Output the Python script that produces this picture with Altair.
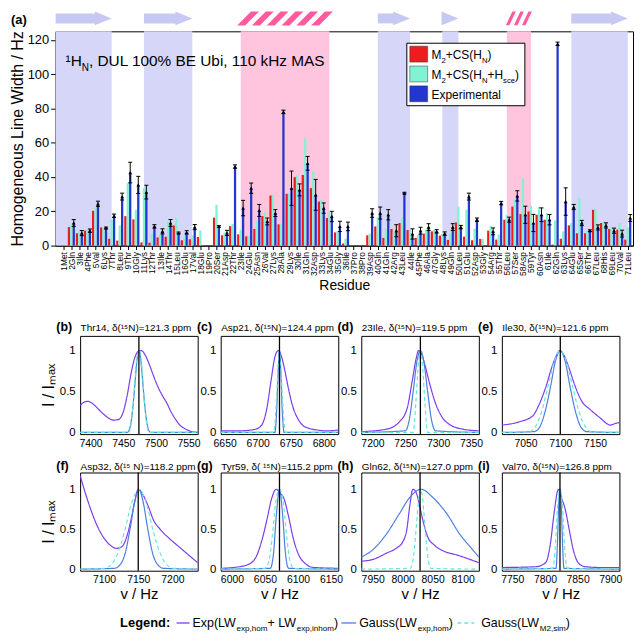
import altair as alt
import pandas as pd

FONT = "Liberation Sans"

# ---------------- panel (a) data ----------------
RESIDUE_NAMES = ["Met","Gln","Ile","Phe","Val","Lys","Thr","Leu","Thr","Gly",
                 "Lys","Thr","Ile","Thr","Leu","Glu","Val","Glu","Pro","Ser",
                 "Asp","Thr","Ile","Glu","Asn","Val","Lys","Ala","Lys","Ile",
                 "Gln","Asp","Lys","Glu","Gly","Ile","Pro","Pro","Asp","Gln",
                 "Gln","Arg","Leu","Ile","Phe","Ala","Gly","Lys","Gln","Leu",
                 "Glu","Asp","Gly","Arg","Thr","Leu","Ser","Asp","Tyr","Asn",
                 "Ile","Gln","Lys","Glu","Ser","Thr","Leu","His","Leu","Val","Leu"]

M2_CS_HN = [None, 10.8, 7.2, 8.7, 20.3, 10.6, 4.0, 2.9, 17.2, 15.3,
            1.9, 1.7, 4.8, 5.2, 11.8, 3.1, 3.7, 5.0, None, 16.3,
            6.0, 11.4, 6.6, 5.4, 9.7, 17.2, 29.2, 12.4, 30.2, 39.9,
            41.2, 33.5, 25.7, 16.1, 7.7, 1.2, None, None, 6.0, 11.2,
            4.5, 9.7, 13.2, 9.1, 4.5, 7.0, 8.3, 5.8, 3.3, 13.5,
            5.2, 3.1, 3.9, 8.7, 3.5, 15.1, 22.8, 18.4, 19.9, 18.0,
            15.1, 0.6, 4.0, 11.8, 7.2, 7.2, 20.9, 13.2, 9.7, 9.3, 3.5]

M2_CS_HN_HSCE = [None, 12.0, 8.3, 9.3, 22.0, 10.3, 15.3, 11.8, 36.4, 20.9,
                 33.5, 7.0, 6.4, 14.1, 16.1, 4.8, 6.0, 8.9, None, 23.8,
                 7.7, 12.6, 9.3, 5.8, 14.5, 19.5, 29.6, 12.8, 30.6, 40.8,
                 62.9, 43.2, 26.7, 19.5, 8.3, 4.0, None, None, 7.0, 16.5,
                 9.7, 8.3, 16.1, 9.3, 6.4, 9.3, 9.1, 6.8, 7.0, 22.8,
                 20.9, 9.7, 3.9, 11.6, 6.4, 18.0, 26.7, 38.9, 23.2, 22.5,
                 19.0, 14.7, 8.3, 13.2, 27.7, 8.3, 21.5, 13.5, 10.8, 13.2, 10.6]

EXPERIMENTAL = [None, 13.2, 7.3, 8.7, 24.4, 10.3, 17.4, 28.6, 42.6, 35.4,
                31.2, 11.2, 8.3, 13.2, 7.4, 7.7, 10.8, None, None, 11.2,
                7.4, 46.1, 21.9, 33.5, 20.5, 14.1, 19.0, 78.0, 33.5, 32.5,
                48.0, 29.6, 21.9, 17.0, 11.2, 11.2, None, None, 19.0, 19.0,
                18.0, 8.7, 30.6, 6.8, 8.7, 10.8, 8.3, 7.0, 10.8, 10.8,
                28.6, 15.1, None, 8.3, 24.8, 15.1, 29.0, 18.0, 13.2, 18.0,
                15.1, 117.7, 25.7, 22.5, 13.2, 8.7, 10.6, 11.8, 8.7, 7.0, 16.1]

EXP_ERROR = [None, 2, 1.5, 1, 1.5, 0.5, 1, 2, 6, 5,
             4, 1, 1.5, 2, 0.5, 1, 1.5, None, None, 0.5,
             1.5, 1, 4.5, 3, 3.5, 2, 2, 1, 10, 3.5,
             4, 9, 3, 3, 3, 2.5, None, None, 2.5, 3.5,
             3, 3.5, 0.5, 3, 2, 2, 1, 1, 2, 1,
             2, 1, None, 2, 1, 1.5, 3, 5, 5, 4,
             3, 1, 8, 1.5, 1.5, 0.5, 1.5, 1.5, 1.5, 2, 2]

# secondary structure (residue coordinates)
BAND_START = [0.05, 11, 23, 40, 48, 56, 64]
BAND_END = [7, 17, 34, 44, 50, 59, 71]
BAND_KIND = ["strand", "strand", "helix", "strand", "strand", "helix", "strand"]
HELIX_STRIPES = {2: 6, 5: 3}

N = len(RESIDUE_NAMES)
for arr in (M2_CS_HN, M2_CS_HN_HSCE, EXPERIMENTAL, EXP_ERROR):
    assert len(arr) == N, len(arr)

# ---------------- panels (b)-(i) data ----------------
B_EXP_X = [7384,7390,7396,7405,7415,7425,7435,7443,7450,7456,7462,7468,7473,7478,7484,7490,7496,7503,7510,7516,7524,7531,7538,7546,7555,7564]
B_EXP_Y = [0.33,0.37,0.38,0.34,0.26,0.19,0.15,0.16,0.25,0.45,0.72,0.92,0.99,1.0,0.94,0.83,0.70,0.56,0.45,0.37,0.24,0.15,0.08,0.04,0.01,0.0]
B_HOM_X = [7384,7456,7460,7464,7468,7471,7474,7477,7480,7484,7488,7492,7564]
B_HOM_Y = [0,0,0.05,0.25,0.6,0.88,1.0,0.88,0.6,0.25,0.05,0,0]
B_SIM_X = [7384,7458,7462,7466,7470,7474,7478,7482,7486,7490,7564]
B_SIM_Y = [0,0,0.1,0.42,0.85,1.0,0.85,0.42,0.1,0,0]

C_EXP_X = [6644,6670,6690,6700,6708,6714,6720,6726,6731,6736,6741,6747,6753,6760,6768,6778,6790,6805,6822]
C_EXP_Y = [0.02,0.02,0.03,0.05,0.12,0.3,0.62,0.92,1.0,0.93,0.76,0.52,0.32,0.18,0.09,0.05,0.03,0.02,0.03]
C_HOM_X = [6644,6726,6729,6731,6733,6735,6737,6740,6822]
C_HOM_Y = [0,0,0.3,0.75,1.0,0.75,0.3,0,0]
C_SIM_X = [6644,6724,6728,6731,6733,6735,6738,6742,6822]
C_SIM_Y = [0,0,0.35,0.8,1.0,0.8,0.35,0,0]

D_EXP_X = [7183,7221,7241,7253,7261,7267,7270,7274,7279,7287,7295,7305,7317,7338,7362]
D_EXP_Y = [0.01,0.04,0.13,0.3,0.65,0.92,1.0,0.97,0.85,0.6,0.38,0.2,0.1,0.04,0.02]
D_HOM_X = [7183,7250,7256,7262,7268,7273,7278,7284,7290,7296,7362]
D_HOM_Y = [0,0.02,0.15,0.5,0.88,1.0,0.88,0.5,0.15,0.02,0]
D_SIM_X = [7183,7262,7266,7270,7273,7276,7280,7284,7362]
D_SIM_Y = [0,0,0.35,0.85,1.0,0.85,0.35,0,0]

E_EXP_X = [7016,7041,7060,7069,7079,7088,7095,7099,7105,7112,7122,7131,7143,7157,7172,7179,7185]
E_EXP_Y = [0.09,0.13,0.2,0.33,0.55,0.8,0.95,1.0,0.95,0.8,0.55,0.38,0.28,0.18,0.09,0.11,0.12]
E_HOM_X = [7016,7062,7070,7078,7086,7093,7100,7107,7114,7122,7130,7138,7185]
E_HOM_Y = [0,0.01,0.06,0.25,0.56,0.87,1.0,0.87,0.56,0.25,0.06,0.01,0]
E_SIM_X = [7016,7055,7064,7073,7082,7091,7100,7109,7118,7127,7136,7145,7185]
E_SIM_Y = [0,0.01,0.07,0.25,0.55,0.86,1.0,0.86,0.55,0.25,0.07,0.01,0]

F_EXP_X = [7065,7072,7080,7089,7099,7109,7118,7126,7133,7140,7145,7150,7157,7165,7172,7182,7196,7211,7226,7237]
F_EXP_Y = [1.17,0.97,0.76,0.56,0.40,0.30,0.26,0.28,0.40,0.64,0.85,1.0,0.93,0.78,0.62,0.5,0.38,0.27,0.16,0.08]
F_HOM_X = [7065,7115,7123,7131,7138,7145,7151,7157,7164,7171,7179,7187,7237]
F_HOM_Y = [0,0.01,0.05,0.2,0.5,0.85,1.0,0.85,0.5,0.2,0.05,0.01,0]
F_SIM_X = [7065,7100,7110,7120,7130,7140,7151,7162,7172,7182,7192,7202,7237]
F_SIM_Y = [0,0.01,0.05,0.2,0.47,0.82,1.0,0.82,0.47,0.2,0.05,0.01,0]

G_EXP_X = [5983,6002,6022,6035,6045,6053,6060,6067,6073,6078,6086,6093,6101,6111,6124,6161]
G_EXP_Y = [0.01,0.02,0.05,0.13,0.35,0.62,0.88,1.0,0.95,0.9,0.65,0.38,0.18,0.07,0.02,0.01]
G_HOM_X = [5983,6058,6063,6067,6072,6077,6081,6086,6161]
G_HOM_Y = [0,0.01,0.2,0.65,1.0,0.65,0.2,0.01,0]
G_SIM_X = [5983,6050,6056,6061,6066,6072,6078,6083,6088,6094,6161]
G_SIM_Y = [0,0.01,0.1,0.4,0.82,1.0,0.82,0.4,0.1,0.01,0]

H_EXP_X = [7931,7950,7973,7989,8000,8007,8012,8017,8023,8028,8034,8042,8053,8070,8089,8109,8127]
H_EXP_Y = [0.1,0.12,0.2,0.26,0.34,0.5,0.8,1.0,0.95,0.8,0.6,0.4,0.3,0.22,0.18,0.13,0.08]
H_HOM_X = [7931,7950,7973,7995,8011,8031,8050,8073,8095,8117,8127]
H_HOM_Y = [0.15,0.24,0.44,0.70,0.89,1.0,0.9,0.7,0.44,0.24,0.15]
H_SIM_X = [7931,8013,8018,8023,8027,8030,8033,8037,8042,8047,8127]
H_SIM_Y = [0,0.01,0.15,0.55,0.9,1.0,0.9,0.55,0.15,0.01,0]

I_EXP_X = [7734,7786,7801,7808,7814,7819,7821,7825,7831,7837,7844,7852,7862,7887,7914]
I_EXP_Y = [0.02,0.03,0.08,0.3,0.7,0.97,1.0,0.9,0.75,0.5,0.22,0.07,0.03,0.02,0.02]
I_HOM_X = [7734,7817,7819,7821,7823,7825,7827,7829,7914]
I_HOM_Y = [0,0.01,0.3,0.8,1.0,0.8,0.3,0.01,0]
I_SIM_X = [7734,7812,7816,7819,7823,7827,7830,7834,7914]
I_SIM_Y = [0,0.01,0.3,0.75,1.0,0.75,0.3,0.01,0]

PANEL_TAGS = ["(b)", "(c)", "(d)", "(e)", "(f)", "(g)", "(h)", "(i)"]
PANEL_TITLES = ["Thr14, δ(¹⁵N)=121.3 ppm", "Asp21, δ(¹⁵N)=124.4 ppm",
                "23Ile, δ(¹⁵N)=119.5 ppm", "Ile30, δ(¹⁵N)=121.6 ppm",
                "Asp32, δ(¹⁵ N)=118.2 ppm", "Tyr59, δ( ¹⁵N)=115.2 ppm",
                "Gln62, δ(¹⁵N)=127.0 ppm", "Val70, δ(¹⁵N)=126.8 ppm"]
PANEL_XMIN = [7384, 6644, 7183, 7016, 7065, 5983, 7931, 7734]
PANEL_XMAX = [7564, 6822, 7362, 7185, 7237, 6161, 8127, 7914]
PANEL_CENTER = [7474, 6733, 7273, 7100, 7150, 6072, 8029, 7823]

CURVES = [
    ((B_EXP_X, B_EXP_Y), (B_HOM_X, B_HOM_Y), (B_SIM_X, B_SIM_Y)),
    ((C_EXP_X, C_EXP_Y), (C_HOM_X, C_HOM_Y), (C_SIM_X, C_SIM_Y)),
    ((D_EXP_X, D_EXP_Y), (D_HOM_X, D_HOM_Y), (D_SIM_X, D_SIM_Y)),
    ((E_EXP_X, E_EXP_Y), (E_HOM_X, E_HOM_Y), (E_SIM_X, E_SIM_Y)),
    ((F_EXP_X, F_EXP_Y), (F_HOM_X, F_HOM_Y), (F_SIM_X, F_SIM_Y)),
    ((G_EXP_X, G_EXP_Y), (G_HOM_X, G_HOM_Y), (G_SIM_X, G_SIM_Y)),
    ((H_EXP_X, H_EXP_Y), (H_HOM_X, H_HOM_Y), (H_SIM_X, H_SIM_Y)),
    ((I_EXP_X, I_EXP_Y), (I_HOM_X, I_HOM_Y), (I_SIM_X, I_SIM_Y)),
]

# ---------------- styles ----------------
RED = "#ee1c1c"
CYAN = "#7ff3d4"
BLUE = "#2236d0"
BLUE_BAND = "#d6d6f8"
PINK_BAND = "#ffc4de"
ARROW = "#c8c8f4"
HELIX = "#ff5a9e"
PURPLE = "#7b3cf0"
GBLUE = "#4d7fe0"
GCYAN = "#66e8d6"

TOP_W, TOP_H = 582, 216
PAN_W, PAN_H = 118.5, 99
ROW_GAP = 38.7

ONE = pd.DataFrame({"k": [0]})

ARIAL = {' ': 278, '(': 333, ')': 333, '+': 584, ',': 278, '.': 278, '/': 278, ':': 278,
         '%': 889, '¹': 333, 'A': 667, 'B': 667, 'C': 722, 'D': 722, 'E': 667, 'G': 778,
         'H': 722, 'I': 278, 'L': 556, 'M': 833, 'N': 722, 'S': 667, 'U': 722, 'W': 944,
         'a': 556, 'b': 556, 'c': 500, 'd': 556, 'e': 556, 'g': 556, 'h': 556, 'i': 222,
         'k': 500, 'l': 222, 'm': 833, 'n': 556, 'o': 556, 'p': 556, 'r': 333, 's': 500,
         't': 278, 'u': 556, 'x': 500, 'z': 500}
ARIAL_BOLD = {'L': 611, 'e': 556, 'g': 611, 'n': 611, 'd': 611, ':': 333}


def tw(s, size, bold=False):
    tab = ARIAL_BOLD if bold else ARIAL
    return sum(tab.get(c, ARIAL.get(c, 556)) for c in s) / 1000.0 * size


def rich(segments, x, y, size, bold=False, color="black"):
    """Text with sub/superscripts, as a list of text layers (pixel positions)."""
    layers = []
    cx = x
    for txt, kind in segments:
        if kind == "sub":
            fs, dy = size * 0.65, size * 0.3
        elif kind == "sup":
            fs, dy = size * 0.65, -size * 0.4
        else:
            fs, dy = size, 0
        layers.append(
            alt.Chart(ONE).mark_text(text=txt, fontSize=fs, align="left", baseline="alphabetic",
                                     color=color, fontWeight="bold" if bold else "normal")
            .encode(x=alt.value(cx), y=alt.value(y + dy))
        )
        cx += tw(txt, fs, bold)
    return layers


# ---------------- panel (a) ----------------
rows = []
for i in range(N):
    for key, vals in (("M2", M2_CS_HN), ("Hsce", M2_CS_HN_HSCE), ("Exp", EXPERIMENTAL)):
        if vals[i] is not None:
            rows.append({"res": i + 1, "series": key, "value": vals[i]})
bars_df = pd.DataFrame(rows)
err_df = pd.DataFrame([{"res": i + 1, "value": EXPERIMENTAL[i], "err": EXP_ERROR[i]}
                       for i in range(N) if EXPERIMENTAL[i] is not None])
bands_df = pd.DataFrame({"start": BAND_START, "end": BAND_END, "kind": BAND_KIND})

stripe_rows = []
for b, (s, e, k) in enumerate(zip(BAND_START, BAND_END, BAND_KIND)):
    if k == "helix":
        nst = HELIX_STRIPES[b]
        step = (e - s) / nst
        for j in range(nst):
            stripe_rows.append({"pos": s + (j + 0.5) * step, "helix": b})
stripes_df = pd.DataFrame(stripe_rows)

label_arr = "[" + ",".join(f"'{i + 1}{nm}'" for i, nm in enumerate(RESIDUE_NAMES)) + "]"
XD = [0.05, 71.65]


def xa(field):
    return alt.X(field, type="quantitative",
                 scale=alt.Scale(domain=XD, nice=False, zero=False),
                 axis=alt.Axis(values=list(range(1, N + 1)), labelExpr=f"{label_arr}[datum.value-1]",
                               labelAngle=-90, labelFontSize=8.5, labelPadding=2, tickSize=4,
                               labelOverlap=False, labelFlush=False,
                               tickColor="black", domainColor="black", labelColor="black",
                               grid=False, title="Residue", titleFontSize=14,
                               titleFontWeight="normal", titlePadding=3, titleColor="black"))


def ya(field):
    return alt.Y(field, type="quantitative",
                 scale=alt.Scale(domain=[0, 125], nice=False),
                 axis=alt.Axis(values=[0, 20, 40, 60, 80, 100, 120], labelFontSize=13,
                               labelPadding=2, tickSize=5, grid=False,
                               title="Homogeneous Line Width / Hz", titleFontSize=16,
                               titleFontWeight="normal", titlePadding=2, domainColor="black",
                               tickColor="black", labelColor="black", titleColor="black"))


bands = alt.Chart(bands_df).mark_rect().encode(
    x=xa("start"), x2="end", y=alt.value(0), y2=alt.value(TOP_H),
    color=alt.Color("kind:N", scale=alt.Scale(domain=["strand", "helix"], range=[BLUE_BAND, PINK_BAND]),
                    legend=None))

arrow_body = alt.Chart(bands_df).transform_filter("datum.kind == 'strand'").mark_rect(
    color=ARROW, x2Offset=-16).encode(x=xa("start"), x2="end", y=alt.value(-18), y2=alt.value(-8))
arrow_head = alt.Chart(bands_df).transform_filter("datum.kind == 'strand'").mark_point(
    shape="M-1,-0.82L1,0L-1,0.82Z", filled=True, size=289, color=ARROW, opacity=1,
    xOffset=-8.5).encode(x=xa("end"), y=alt.value(-13))

stripe1 = alt.Chart(stripes_df).transform_filter("datum.helix == 2").mark_point(
    shape="M-1,0.64L-0.27,0.64L1,-0.64L0.27,-0.64Z", filled=True, size=484, color=HELIX,
    opacity=1).encode(x=xa("pos"), y=alt.value(-13))
stripe2 = alt.Chart(stripes_df).transform_filter("datum.helix == 5").mark_point(
    shape="M-1,1.4L-0.3,1.4L1,-1.4L0.3,-1.4Z", filled=True, size=100, color=HELIX,
    opacity=1).encode(x=xa("pos"), y=alt.value(-13))

OFFS = "(datum.series == 'M2' ? -0.3 : (datum.series == 'Hsce' ? 0 : 0.3))"
bars = alt.Chart(bars_df).transform_calculate(
    xc=f"datum.res + {OFFS}").transform_calculate(
    xl="datum.xc - 0.14", xr="datum.xc + 0.14").mark_rect().encode(
    x=xa("xl"), x2="xr", y=ya("value"), y2=alt.datum(0),
    color=alt.Color("series:N", scale=alt.Scale(domain=["M2", "Hsce", "Exp"], range=[RED, CYAN, BLUE]),
                    legend=None))

errs = alt.Chart(err_df).transform_calculate(
    xc="datum.res + 0.3", lo="datum.value - datum.err", hi="datum.value + datum.err",
    cl="datum.res + 0.05", cr="datum.res + 0.55")
err_rule = errs.mark_rule(color="black", strokeWidth=1).encode(x=xa("xc"), y=ya("lo"), y2="hi")
cap_hi = errs.mark_rule(color="black", strokeWidth=1).encode(x=xa("cl"), x2="cr", y=ya("hi"))
cap_lo = errs.mark_rule(color="black", strokeWidth=1).encode(x=xa("cl"), x2="cr", y=ya("lo"))
tri = errs.mark_point(shape="triangle-up", filled=True, color="black", size=14, opacity=1).encode(
    x=xa("xc"), y=ya("value"))

top_text = []
top_text += rich([("(a)", "n")], -45, -7, 13, bold=True)
top_text += rich([("¹H", "n"), ("N", "sub"), (", DUL 100% BE Ubi, 110 kHz MAS", "n")], 10, 35, 15.5)

leg_box = alt.Chart(ONE).mark_rect(fill="white", stroke="black", strokeWidth=1).encode(
    x=alt.value(354), x2=alt.value(473), y=alt.value(12), y2=alt.value(75))
leg_sq = []
for yy, col in ((15, RED), (35, CYAN), (55, BLUE)):
    leg_sq.append(alt.Chart(ONE).mark_rect(fill=col, stroke="#333333", strokeWidth=0.5).encode(
        x=alt.value(357), x2=alt.value(375), y=alt.value(yy), y2=alt.value(yy + 16)))
leg_txt = []
leg_txt += rich([("M", "n"), ("2", "sub"), ("+CS(H", "n"), ("N", "sub"), (")", "n")], 379, 28, 12)
leg_txt += rich([("M", "n"), ("2", "sub"), ("+CS(H", "n"), ("N", "sub"), ("+H", "n"), ("sce", "sub"),
                 (")", "n")], 379, 48, 12)
leg_txt += rich([("Experimental", "n")], 379, 68, 12)

top = alt.layer(bands, arrow_body, arrow_head, stripe1, stripe2, bars, err_rule, cap_hi, cap_lo, tri,
                *top_text, leg_box, *leg_sq, *leg_txt).resolve_scale(color="independent").properties(
    width=TOP_W, height=TOP_H)


# ---------------- panels (b)-(i) ----------------
def panel(idx):
    lo, hi = PANEL_XMIN[idx], PANEL_XMAX[idx]
    first_col = idx % 4 == 0
    bottom_row = idx >= 4
    ydom = [-0.02, 1.21] if bottom_row else [-0.02, 1.18]
    ticks = [v for v in range(0, 10000, 50) if lo <= v <= hi]
    xs = alt.Scale(domain=[lo, hi], nice=False, zero=False)
    ys = alt.Scale(domain=ydom, nice=False, zero=False)
    xax = alt.Axis(values=ticks, format="d", labelFontSize=10.5, ticks=False, labelPadding=4,
                   grid=False, domain=False, labelColor="black", labelFlush=False,
                   title="v / Hz" if bottom_row else "", titleFontSize=15,
                   titleFontWeight="normal", titlePadding=2, titleColor="black")
    yax = alt.Axis(values=[0, 0.5, 1], format="~g", labelFontSize=11.5, ticks=False, labelPadding=5,
                   grid=False, domain=False, labelColor="black",
                   title="I / Iₘₐₓ" if first_col else "", titleFontSize=16,
                   titleFontWeight="normal", titlePadding=3, titleColor="black")
    rows = []
    for name, (xv, yv) in zip(("exp", "hom", "sim"), CURVES[idx]):
        for a, b in zip(xv, yv):
            rows.append({"x": a, "y": b, "curve": name})
    df = pd.DataFrame(rows)
    lines = alt.Chart(df).mark_line(interpolate="monotone", clip=True, strokeWidth=1.2).encode(
        x=alt.X("x:Q", scale=xs, axis=xax),
        y=alt.Y("y:Q", scale=ys, axis=yax),
        color=alt.Color("curve:N", scale=alt.Scale(domain=["exp", "hom", "sim"],
                                                   range=[PURPLE, GBLUE, GCYAN]), legend=None),
        strokeDash=alt.StrokeDash("curve:N", scale=alt.Scale(domain=["exp", "hom", "sim"],
                                                             range=[[1, 0], [1, 0], [4, 3]]),
                                  legend=None))
    cdf = pd.DataFrame({"x": [PANEL_CENTER[idx]]})
    center = alt.Chart(cdf).mark_rule(color="black", strokeWidth=1.3).encode(
        x=alt.X("x:Q", scale=xs, axis=xax))
    ty = -3 if bottom_row else -5
    tag = rich([(PANEL_TAGS[idx], "n")], -24, ty, 12.5, bold=True)
    title = rich([(PANEL_TITLES[idx], "n")], 0.5, ty, 10)
    return alt.layer(lines, center, *tag, *title).properties(width=PAN_W, height=PAN_H)


def spacer():
    return alt.Chart(ONE).mark_point(opacity=0).encode(x=alt.value(0), y=alt.value(0)).properties(
        width=1.6, height=PAN_H, view=alt.ViewBackground(stroke="transparent"))


row1 = alt.hconcat(spacer(), *[panel(i) for i in range(4)], spacing=22.7, bounds="flush")
row2 = alt.hconcat(spacer(), *[panel(i) for i in range(4, 8)], spacing=22.7, bounds="flush")

# ---------------- bottom legend ----------------
LY = 18
leg_layers = []
leg_layers += rich([("Legend:", "n")], 65, LY, 13, bold=True)
leg_layers.append(alt.Chart(ONE).mark_rule(color=PURPLE, strokeWidth=1.3).encode(
    x=alt.value(122), x2=alt.value(135), y=alt.value(LY - 4)))
leg_layers += rich([("Exp(LW", "n"), ("exp,hom", "sub"), ("+ LW", "n"), ("exp,inhom", "sub"), (")", "n")],
                   138, LY, 12.5)
leg_layers.append(alt.Chart(ONE).mark_rule(color=GBLUE, strokeWidth=1.3).encode(
    x=alt.value(288), x2=alt.value(303), y=alt.value(LY - 4)))
leg_layers += rich([("Gauss(LW", "n"), ("exp,hom", "sub"), (")", "n")], 306, LY, 12.5)
leg_layers.append(alt.Chart(ONE).mark_rule(color=GCYAN, strokeWidth=1.3, strokeDash=[4, 3]).encode(
    x=alt.value(405), x2=alt.value(422), y=alt.value(LY - 4)))
leg_layers += rich([("Gauss(LW", "n"), ("M2,sim", "sub"), (")", "n")], 429, LY, 12.5)
legend_row = alt.layer(*leg_layers).properties(width=560, height=18,
                                               view=alt.ViewBackground(stroke="transparent"))

# nested concat groups count as zero height in a flush layout, so the
# spacing below includes the row height
lower = alt.vconcat(row1, row2, legend_row, spacing=PAN_H + ROW_GAP, bounds="flush")
chart = alt.vconcat(top, lower, spacing=91, bounds="flush").properties(padding=0).configure(
    font=FONT).configure_view(stroke="black", strokeWidth=1)

chart.save("out.html", embed_options={"renderer": "svg", "actions": False})
